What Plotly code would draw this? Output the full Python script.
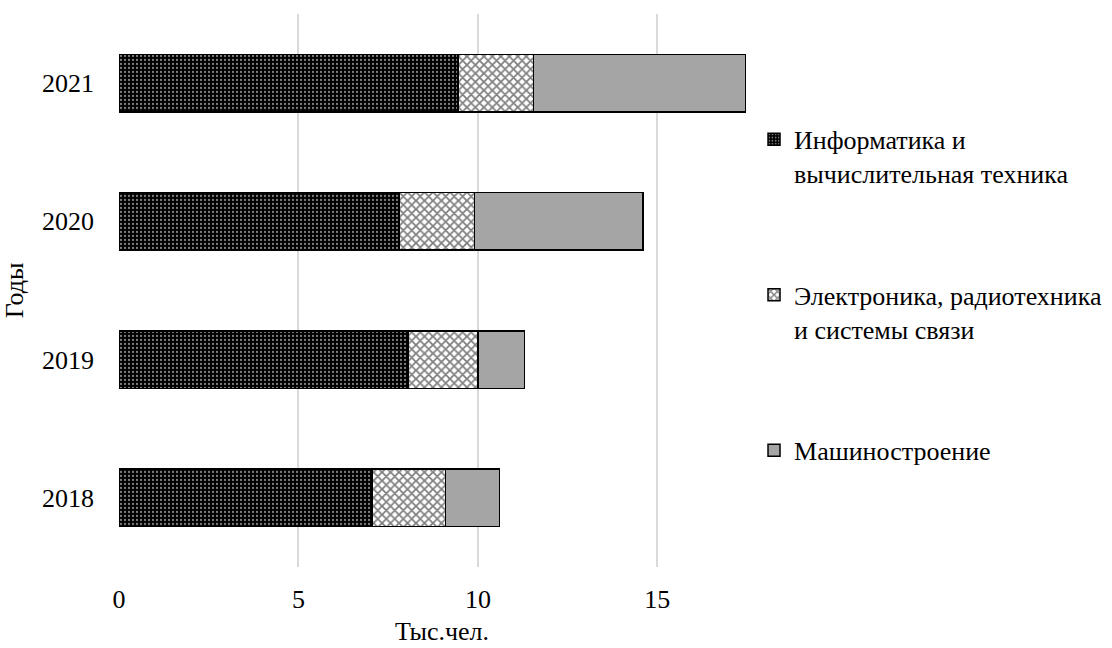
import plotly.graph_objects as go

years = ["2018", "2019", "2020", "2021"]
series_names = [
    "Информатика и<br>вычислительная техника",
    "Электроника, радиотехника<br>и системы связи",
    "Машиностроение",
]
informatika = [7.05, 8.05, 7.8, 9.45]
elektronika = [2.05, 1.95, 2.1, 2.1]
mashinostroenie = [1.5, 1.3, 4.7, 5.9]
x_ticks = [0, 5, 10, 15]

FONT = "'Liberation Serif', 'Times New Roman', serif"
FS = 26

fig = go.Figure()
fig.add_trace(go.Bar(
    y=years, x=informatika, orientation="h", name=series_names[0],
    legendgroup="g1",
    marker=dict(color="black", line=dict(color="black", width=1.5),
                pattern=dict(shape=".", fgcolor="white", bgcolor="black",
                             size=4, solidity=0.25, fillmode="overlay")),
    width=0.416,
))
fig.add_trace(go.Bar(
    y=years, x=elektronika, orientation="h", name=series_names[1],
    legendgroup="g2",
    marker=dict(color="white", line=dict(color="black", width=1.5),
                pattern=dict(shape="x", fgcolor="black", bgcolor="white",
                             size=6, solidity=0.5, fillmode="overlay")),
    width=0.416,
))
fig.add_trace(go.Bar(
    y=years, x=mashinostroenie, orientation="h", name=series_names[2],
    legendgroup="g3",
    marker=dict(color="#A5A5A5", line=dict(color="black", width=1.5)),
    width=0.416,
))

fig.update_layout(
    barmode="stack",
    width=1112, height=648,
    margin=dict(l=119, r=347, t=14, b=81, autoexpand=False),
    paper_bgcolor="white", plot_bgcolor="white",
    font=dict(family=FONT, size=FS, color="black"),
    showlegend=True,
    legend=dict(
        x=0.983, xanchor="left", y=0.816, yanchor="top",
        traceorder="grouped", tracegroupgap=85, valign="top",
        font=dict(family=FONT, size=FS, color="black"),
        bgcolor="rgba(0,0,0,0)",
    ),
    xaxis=dict(
        range=[0, 18], tickvals=x_ticks, ticktext=[str(v) for v in x_ticks],
        showgrid=True, gridcolor="#D9D9D9", gridwidth=1.5,
        zeroline=False, showline=False, ticks="",
        ticklabelstandoff=14,
        title=dict(text="Тыс.чел.", standoff=8,
                   font=dict(family=FONT, size=FS)),
        fixedrange=True,
    ),
    yaxis=dict(
        type="category", categoryorder="array", categoryarray=years,
        showgrid=False, zeroline=False, showline=False, ticks="",
        ticklabelstandoff=24,
        title=dict(text="Годы", standoff=10,
                   font=dict(family=FONT, size=FS)),
        fixedrange=True,
    ),
)

fig.write_html("out.html")
